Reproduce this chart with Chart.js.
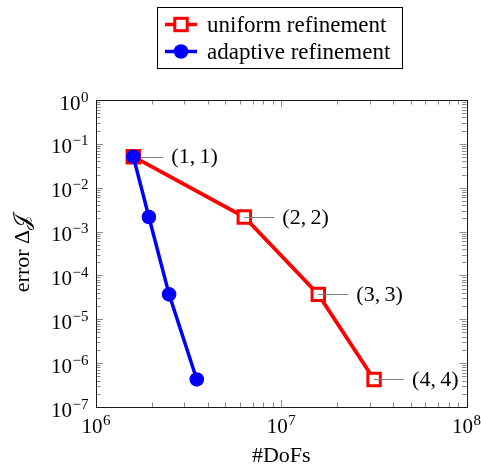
<!DOCTYPE html>
<html>
<head>
<meta charset="utf-8">
<script src="https://cdn.jsdelivr.net/npm/chart.js@4/dist/chart.umd.min.js"></script>
<style>
  html, body { margin: 0; padding: 0; background: #fff; }
  canvas { display: block; }
</style>
</head>
<body>
<canvas id="c" width="481" height="473"></canvas>
<script>
// Convergence data: degrees of freedom vs. error in the goal functional
const dofsUniform = [1.59e6, 6.32e6, 1.585e7, 3.17e7];
const errorUniform = [5.1e-2, 2.15e-3, 3.7e-5, 4.25e-7];
const dofsAdaptive = [1.59e6, 1.93e6, 2.48e6, 3.50e6];
const errorAdaptive = [5.1e-2, 2.15e-3, 3.7e-5, 4.25e-7];
const uniformPointLabels = ['(1,\u20091)', '(2,\u20092)', '(3,\u20093)', '(4,\u20094)'];
const seriesNames = ['uniform refinement', 'adaptive refinement'];
const xDecades = [6, 7, 8];
const yDecades = [0, -1, -2, -3, -4, -5, -6, -7];
const xTitle = '#DoFs';
const yTitle = 'error \u0394\uD835\uDCA5';

const SERIF = '"Liberation Serif", "DejaVu Serif", serif';
const RED = '#ff0000';
const BLUE = '#0000ff';

function line(ctx, x1, y1, x2, y2) {
  ctx.beginPath();
  ctx.moveTo(x1, y1);
  ctx.lineTo(x2, y2);
  ctx.stroke();
}

// 10^e tick label; (x, baseline) of the "10" part
function powerLabel(ctx, exp, x, base, align, supRaise) {
  const sup = exp < 0 ? '\u2212' + (-exp) : String(exp);
  ctx.font = '21px ' + SERIF;
  const wb = ctx.measureText('10').width;
  ctx.font = '15px ' + SERIF;
  const ws = ctx.measureText(sup).width;
  const total = wb + 0.5 + ws;
  const left = align === 'right' ? x - total : x - total / 2;
  ctx.textAlign = 'left';
  ctx.textBaseline = 'alphabetic';
  ctx.font = '21px ' + SERIF;
  ctx.fillText('10', left, base);
  ctx.font = '15px ' + SERIF;
  ctx.fillText(sup, left + wb + 0.5, base - supRaise);
}

function drawMarker(ctx, style, x, y, color) {
  ctx.save();
  if (style === 'rect') {
    ctx.fillStyle = '#fff';
    ctx.strokeStyle = color;
    ctx.lineWidth = 3;
    ctx.fillRect(x - 6.2, y - 6.2, 12.4, 12.4);
    ctx.strokeRect(x - 6.2, y - 6.2, 12.4, 12.4);
  } else {
    ctx.fillStyle = color;
    ctx.beginPath();
    ctx.arc(x, y, 7.3, 0, Math.PI * 2);
    ctx.fill();
  }
  ctx.restore();
}

const axesPlugin = {
  id: 'axesFrame',
  beforeDatasetsDraw(chart) {
    const { ctx, chartArea: a, scales: { x, y } } = chart;
    ctx.save();
    // inward tick marks on all four sides
    ctx.strokeStyle = '#8c8c8c';
    ctx.lineWidth = 1;
    xDecades.forEach((d, i) => {
      for (let m = 1; m <= 9; m++) {
        if (i === xDecades.length - 1 && m > 1) break;
        const px = Math.round(x.getPixelForValue(m * Math.pow(10, d))) + 0.5;
        const len = m === 1 ? 7 : 4.5;
        line(ctx, px, a.bottom, px, a.bottom - len);
        line(ctx, px, a.top, px, a.top + len);
      }
    });
    yDecades.forEach((d, i) => {
      for (let m = 1; m <= 9; m++) {
        if (i === 0 && m > 1) break;
        const py = Math.round(y.getPixelForValue(m * Math.pow(10, d))) + 0.5;
        const len = m === 1 ? 7 : 4.5;
        line(ctx, a.left, py, a.left + len, py);
        line(ctx, a.right, py, a.right - len, py);
      }
    });
    // frame
    ctx.strokeStyle = '#1a1a1a';
    ctx.strokeRect(Math.round(a.left) + 0.5, Math.round(a.top) + 0.5,
      Math.round(a.right - a.left), Math.round(a.bottom - a.top));

    // tick labels
    ctx.fillStyle = '#000';
    xDecades.forEach(d => {
      powerLabel(ctx, d, x.getPixelForValue(Math.pow(10, d)), a.bottom + 26, 'center', 8);
    });
    yDecades.forEach(d => {
      powerLabel(ctx, d, a.left - 7.5, y.getPixelForValue(Math.pow(10, d)) + 9.5, 'right', 8);
    });

    // axis titles
    ctx.font = '22px ' + SERIF;
    ctx.textAlign = 'center';
    ctx.textBaseline = 'middle';
    ctx.fillText(xTitle, (a.left + a.right) / 2, 456);
    ctx.save();
    ctx.translate(23, (a.top + a.bottom) / 2);
    ctx.rotate(-Math.PI / 2);
    ctx.fillText(yTitle, 0, 0);
    ctx.restore();

    // legend
    ctx.strokeStyle = '#000';
    ctx.lineWidth = 1;
    ctx.strokeRect(157.5, 7.5, 245, 61);
    const rows = [
      { y: 24.5, color: RED, style: 'rect' },
      { y: 51.5, color: BLUE, style: 'circle' }
    ];
    rows.forEach((r, i) => {
      ctx.strokeStyle = r.color;
      ctx.lineWidth = 3.5;
      line(ctx, 165, r.y, 197, r.y);
      drawMarker(ctx, r.style, 181, r.y, r.color);
      ctx.fillStyle = '#000';
      ctx.font = '23px ' + SERIF;
      ctx.textAlign = 'left';
      ctx.textBaseline = 'middle';
      ctx.fillText(seriesNames[i], 207, r.y + 1);
    });
    ctx.restore();
  },
  afterDatasetDraw(chart, args) {
    if (args.index !== 0) return;
    const { ctx } = chart;
    ctx.save();
    args.meta.data.forEach((pt, i) => {
      ctx.strokeStyle = '#808080';
      ctx.lineWidth = 1;
      line(ctx, pt.x, Math.round(pt.y) + 0.5, pt.x + 30, Math.round(pt.y) + 0.5);
      ctx.fillStyle = '#000';
      ctx.font = '22px ' + SERIF;
      ctx.textAlign = 'left';
      ctx.textBaseline = 'middle';
      ctx.fillText(uniformPointLabels[i], pt.x + 38, pt.y + 1);
    });
    ctx.restore();
  }
};

new Chart(document.getElementById('c'), {
  type: 'line',
  data: {
    datasets: [
      {
        label: seriesNames[0],
        data: dofsUniform.map((v, i) => ({ x: v, y: errorUniform[i] })),
        borderColor: RED,
        borderWidth: 3.8,
        pointStyle: 'rect',
        pointRadius: 8.8,
        pointBorderWidth: 3,
        pointBackgroundColor: '#fff',
        pointBorderColor: RED,
        tension: 0,
        clip: false,
        order: 1
      },
      {
        label: seriesNames[1],
        data: dofsAdaptive.map((v, i) => ({ x: v, y: errorAdaptive[i] })),
        borderColor: BLUE,
        borderWidth: 3.5,
        pointStyle: 'circle',
        pointRadius: 7.3,
        pointBorderWidth: 0,
        pointBackgroundColor: BLUE,
        pointBorderColor: BLUE,
        tension: 0,
        clip: false,
        order: 0
      }
    ]
  },
  options: {
    responsive: false,
    animation: false,
    events: [],
    layout: { padding: { top: 100, right: 14.5, left: 0, bottom: 0 } },
    plugins: { legend: { display: false }, tooltip: { enabled: false } },
    scales: {
      x: {
        type: 'logarithmic', min: 1e6, max: 1e8,
        grid: { display: false }, border: { display: false },
        ticks: { display: false },
        afterFit(s) { s.height = 66; }
      },
      y: {
        type: 'logarithmic', min: 1e-7, max: 1,
        grid: { display: false }, border: { display: false },
        ticks: { display: false },
        afterFit(s) { s.width = 96; }
      }
    }
  },
  plugins: [axesPlugin]
});
</script>
</body>
</html>
